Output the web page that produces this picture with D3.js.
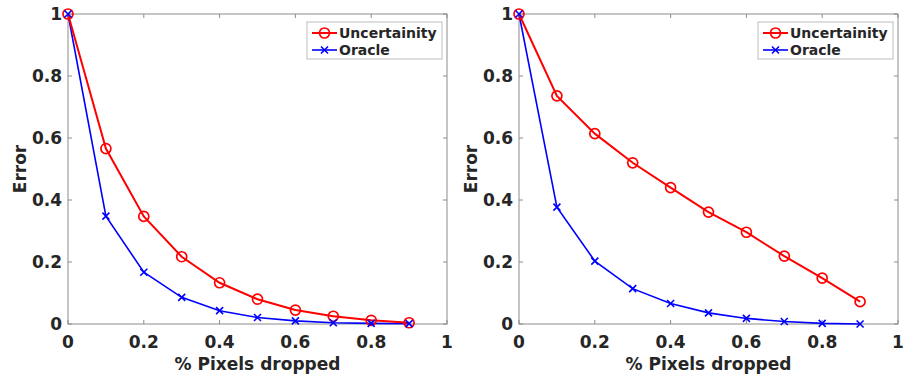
<!DOCTYPE html>
<html>
<head>
<meta charset="utf-8">
<script src="https://cdn.jsdelivr.net/npm/d3@7"></script>
<style>
  body { margin: 0; background: #fff; }
  svg text { font-family: "DejaVu Sans", sans-serif; font-weight: bold; fill: #262626; }
</style>
</head>
<body>
<svg id="chart" width="905" height="375"></svg>
<script>
// data
var drops = [0, 0.1, 0.2, 0.3, 0.4, 0.5, 0.6, 0.7, 0.8, 0.9];
var leftUncertainty = [1, 0.566, 0.347, 0.217, 0.133, 0.080, 0.045, 0.025, 0.012, 0.004];
var leftOracle = [1, 0.348, 0.167, 0.086, 0.043, 0.021, 0.010, 0.004, 0.002, 0.001];
var rightUncertainty = [1, 0.736, 0.614, 0.520, 0.440, 0.361, 0.296, 0.219, 0.148, 0.072];
var rightOracle = [1, 0.377, 0.203, 0.114, 0.066, 0.036, 0.018, 0.008, 0.002, 0.0];
var xTicks = [0, 0.2, 0.4, 0.6, 0.8, 1];
var yTicks = [0, 0.2, 0.4, 0.6, 0.8, 1];
var legendNames = ["Uncertainity", "Oracle"];

var svg = d3.select("#chart");
var axisColor = "#8c8c8c";

function panel(left, right, unc, ora) {
  var top = 14, bottom = 324;
  var x = d3.scaleLinear().domain([0, 1]).range([left, right]);
  var y = d3.scaleLinear().domain([0, 1]).range([bottom, top]);
  var g = svg.append("g");

  // box
  g.append("rect")
    .attr("x", left).attr("y", top)
    .attr("width", right - left).attr("height", bottom - top)
    .attr("fill", "none").attr("stroke", axisColor).attr("stroke-width", 1);

  // ticks inward
  xTicks.forEach(function(t) {
    g.append("line").attr("x1", x(t)).attr("x2", x(t)).attr("y1", bottom).attr("y2", bottom - 4)
      .attr("stroke", axisColor);
    g.append("line").attr("x1", x(t)).attr("x2", x(t)).attr("y1", top).attr("y2", top + 4)
      .attr("stroke", axisColor);
    g.append("text").attr("x", x(t)).attr("y", bottom + 24)
      .attr("text-anchor", "middle").style("font-size", "17px")
      .text(d3.format("~g")(t));
  });
  yTicks.forEach(function(t) {
    g.append("line").attr("x1", left).attr("x2", left + 4).attr("y1", y(t)).attr("y2", y(t))
      .attr("stroke", axisColor);
    g.append("line").attr("x1", right).attr("x2", right - 4).attr("y1", y(t)).attr("y2", y(t))
      .attr("stroke", axisColor);
    g.append("text").attr("x", left - 6).attr("y", y(t)).attr("dy", "0.35em")
      .attr("text-anchor", "end").style("font-size", "17px")
      .text(d3.format("~g")(t));
  });

  g.append("text").attr("x", (left + right) / 2).attr("y", 370)
    .attr("text-anchor", "middle").style("font-size", "17px").text("% Pixels dropped");
  g.append("text")
    .attr("transform", "translate(" + (left - 42) + "," + ((top + bottom) / 2) + ")rotate(-90)")
    .attr("text-anchor", "middle").style("font-size", "17px").text("Error");

  var line = d3.line().x(function(d, i) { return x(drops[i]); }).y(function(d) { return y(d); });

  g.append("path").datum(ora).attr("d", line)
    .attr("fill", "none").attr("stroke", "#0000ff").attr("stroke-width", 1.6);
  g.append("path").datum(unc).attr("d", line)
    .attr("fill", "none").attr("stroke", "#ff0000").attr("stroke-width", 2);

  g.selectAll(".circ").data(unc).enter().append("circle")
    .attr("cx", function(d, i) { return x(drops[i]); })
    .attr("cy", function(d) { return y(d); })
    .attr("r", 5).attr("fill", "none").attr("stroke", "#ff0000").attr("stroke-width", 1.7);

  ora.forEach(function(d, i) {
    crossMark(g, x(drops[i]), y(d));
  });

  // legend
  var lx = right - 140, ly = 22;
  var lg = g.append("g");
  lg.append("rect").attr("x", lx).attr("y", ly).attr("width", 135).attr("height", 37)
    .attr("fill", "#fff").attr("stroke", "#bdbdbd");
  var colors = ["#ff0000", "#0000ff"];
  legendNames.forEach(function(name, i) {
    var yy = ly + 11 + i * 17;
    lg.append("line").attr("x1", lx + 5).attr("x2", lx + 30).attr("y1", yy).attr("y2", yy)
      .attr("stroke", colors[i]).attr("stroke-width", i == 0 ? 2 : 1.6);
    if (i == 0) {
      lg.append("circle").attr("cx", lx + 17.5).attr("cy", yy).attr("r", 5)
        .attr("fill", "none").attr("stroke", colors[i]).attr("stroke-width", 1.7);
    } else {
      crossMark(lg, lx + 17.5, yy);
    }
    lg.append("text").attr("x", lx + 32).attr("y", yy).attr("dy", "0.35em")
      .style("font-size", "14px").text(name);
  });
}

function crossMark(g, cx, cy) {
  var s = 3.5;
  g.append("path")
    .attr("d", "M" + (cx - s) + "," + (cy - s) + "L" + (cx + s) + "," + (cy + s) +
               "M" + (cx - s) + "," + (cy + s) + "L" + (cx + s) + "," + (cy - s))
    .attr("stroke", "#0000ff").attr("stroke-width", 1.6);
}

panel(68, 447, leftUncertainty, leftOracle);
panel(519, 898, rightUncertainty, rightOracle);
</script>
</body>
</html>
